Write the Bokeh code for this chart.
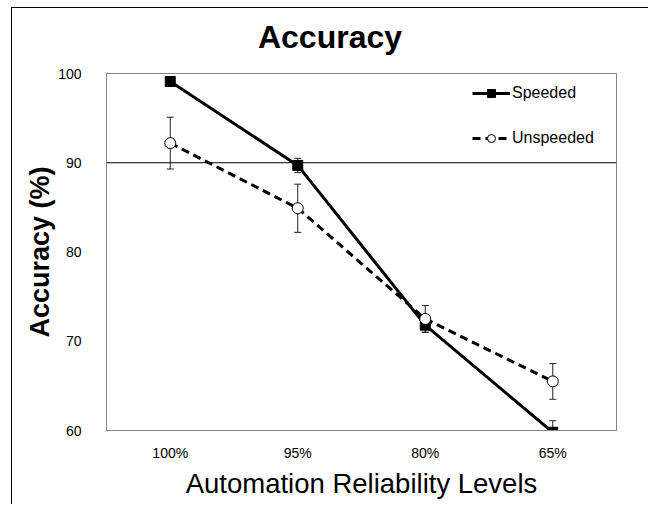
from bokeh.plotting import figure
from bokeh.layouts import column
from bokeh.models import ColumnDataSource, Span, Whisker, TeeHead, Legend, LegendItem, FixedTicker, Div
from bokeh.embed import file_html
from bokeh.resources import INLINE

levels = ["100%", "95%", "80%", "65%"]
speeded = [99.1, 89.7, 71.8, 59.8]
speeded_err = [0.3, 0.8, 0.8, 1.3]
unspeeded = [92.2, 84.9, 72.5, 65.5]
unspeeded_err = [2.9, 2.7, 1.5, 2.0]
y_ticks = [60, 70, 80, 90, 100]
reference_line = 90
chart_title = "Accuracy"

FONT = "Liberation Sans"
GRAY = "#868686"

TITLE_H = 58
p = figure(x_range=levels, y_range=(60, 100), frame_width=510, frame_height=357,
           min_border_left=94, min_border_top=65 - TITLE_H, min_border_right=32, min_border_bottom=74,
           output_backend="svg", toolbar_location=None)
p.background_fill_color = "white"
p.border_fill_color = "white"
p.outline_line_color = GRAY
p.outline_line_width = 1
p.grid.visible = False

# axes
for ax in (p.xaxis[0], p.yaxis[0]):
    ax.axis_line_color = GRAY
    ax.major_tick_in = 0
    ax.major_tick_out = 0
    ax.minor_tick_in = 0
    ax.minor_tick_out = 0
    ax.major_tick_line_color = None
    ax.minor_tick_line_color = None
    ax.major_label_text_font = FONT
    ax.major_label_text_font_size = "14px"
    ax.major_label_text_color = "black"
    ax.axis_label_text_font = FONT
    ax.axis_label_text_color = "black"

p.xaxis.major_label_standoff = 14
p.xaxis.axis_label = "Automation Reliability Levels"
p.xaxis.axis_label_text_font_size = "27.5px"
p.xaxis.axis_label_text_font_style = "normal"
p.xaxis.axis_label_standoff = 4

p.yaxis.ticker = FixedTicker(ticks=y_ticks)
p.yaxis.major_label_standoff = 25
p.yaxis.axis_label = "Accuracy (%)"
p.yaxis.axis_label_text_font_size = "27px"
p.yaxis.axis_label_text_font_style = "bold"
p.yaxis.axis_label_standoff = 0

p.add_layout(Span(location=reference_line, dimension="width", line_color="black", line_width=1))

src_s = ColumnDataSource(dict(x=levels, y=speeded,
                              upper=[v + e for v, e in zip(speeded, speeded_err)],
                              lower=[v - e for v, e in zip(speeded, speeded_err)]))
src_u = ColumnDataSource(dict(x=levels, y=unspeeded,
                              upper=[v + e for v, e in zip(unspeeded, unspeeded_err)],
                              lower=[v - e for v, e in zip(unspeeded, unspeeded_err)]))

for src in (src_s, src_u):
    w = Whisker(base="x", upper="upper", lower="lower", source=src, dimension="height",
                line_color="#222222", line_width=1,
                upper_head=TeeHead(size=7, line_color="#222222", line_width=1),
                lower_head=TeeHead(size=7, line_color="#222222", line_width=1))
    p.add_layout(w)

r1 = p.line("x", "y", source=src_s, line_width=3, line_color="black")
s1 = p.scatter("x", "y", source=src_s, marker="square", size=10, fill_color="black", line_color="black")
r2 = p.line("x", "y", source=src_u, line_width=3, line_color="black", line_dash="8 5")
s2 = p.scatter("x", "y", source=src_u, marker="circle", size=11, fill_color="white",
               line_color="black", line_width=1)

legend = Legend(items=[LegendItem(label="Speeded", renderers=[r1, s1]),
                       LegendItem(label="Unspeeded", renderers=[r2, s2])],
                location=(366, 282), glyph_width=38, glyph_height=20, spacing=25,
                padding=0, margin=0, border_line_color=None, background_fill_alpha=0,
                label_text_font=FONT, label_text_font_size="16px", label_standoff=2,
                label_text_color="black", label_height=20)
p.add_layout(legend, "center")

title_div = Div(text=chart_title, width=636, height=TITLE_H, margin=0,
                styles={"font-family": FONT, "font-size": "32px", "font-weight": "bold",
                        "color": "black", "text-align": "center",
                        "line-height": f"{TITLE_H}px"})
title_div.stylesheets = [f":host {{ text-align: center; }} div {{ width: 636px; text-align: center; line-height: {TITLE_H}px; }}"]

layout = column(title_div, p, spacing=0)
layout.margin = (7, 0, 0, 11)
layout.styles = {"border-left": "1px solid black", "border-top": "1px solid black",
                 "background-color": "white"}

open("out.html", "w").write(file_html(layout, INLINE))
